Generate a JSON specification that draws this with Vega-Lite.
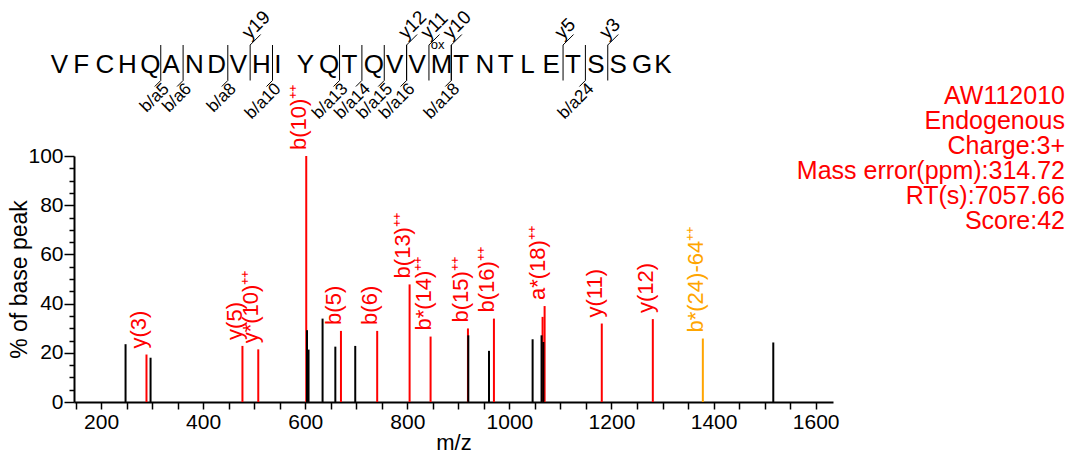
{
  "$schema": "https://vega.github.io/schema/vega-lite/v6.json",
  "autosize": {"type": "none"},
  "padding": {"left": 74, "top": 156, "right": 238, "bottom": 57},
  "width": 759,
  "height": 246,
  "background": "white",
  "config": {
    "font": "Liberation Sans",
    "view": {"stroke": null},
    "text": {"font": "Liberation Sans"}
  },
  "title": {
    "text": ["AW112010", "Endogenous", "Charge:3+", "Mass error(ppm):314.72", "RT(s):7057.66", "Score:42"],
    "anchor": "end",
    "frame": "group",
    "orient": "top",
    "align": "right",
    "baseline": "top",
    "color": "#ff0000",
    "font": "Liberation Sans",
    "fontSize": 25,
    "fontWeight": "normal",
    "lineHeight": 25,
    "offset": 0,
    "dx": 232,
    "dy": 226
  },
  "layer": [
    {
      "data": {
        "values": [
          {"mz": 289, "pct": 19.3, "kind": "matched", "label": "y(3)"},
          {"mz": 477, "pct": 22.8, "kind": "matched", "label": "y(5)"},
          {"mz": 508, "pct": 21.4, "kind": "matched", "label": "y*(10)⁺⁺"},
          {"mz": 602, "pct": 100, "kind": "matched", "label": "b(10)⁺⁺"},
          {"mz": 670, "pct": 28.9, "kind": "matched", "label": "b(5)"},
          {"mz": 741, "pct": 28.9, "kind": "matched", "label": "b(6)"},
          {"mz": 804.5, "pct": 47.8, "kind": "matched", "label": "b(13)⁺⁺"},
          {"mz": 845.6, "pct": 26.6, "kind": "matched", "label": "b*(14)⁺⁺"},
          {"mz": 918.8, "pct": 29.9, "kind": "matched", "label": "b(15)⁺⁺"},
          {"mz": 969.7, "pct": 33.9, "kind": "matched", "label": "b(16)⁺⁺"},
          {"mz": 1065, "pct": 34.6, "kind": "matched", "label": null},
          {"mz": 1069, "pct": 39.0, "kind": "matched", "label": "a*(18)⁺⁺"},
          {"mz": 1181, "pct": 31.9, "kind": "matched", "label": "y(11)"},
          {"mz": 1281, "pct": 33.7, "kind": "matched", "label": "y(12)"},
          {"mz": 1379, "pct": 25.8, "kind": "loss", "label": "b*(24)-64⁺⁺"},
          {"mz": 248, "pct": 23.5, "kind": "unmatched", "label": null},
          {"mz": 297, "pct": 18.0, "kind": "unmatched", "label": null},
          {"mz": 603.5, "pct": 29.2, "kind": "unmatched", "label": null},
          {"mz": 606.5, "pct": 21.3, "kind": "unmatched", "label": null},
          {"mz": 634, "pct": 33.9, "kind": "unmatched", "label": null},
          {"mz": 659, "pct": 22.5, "kind": "unmatched", "label": null},
          {"mz": 698, "pct": 22.8, "kind": "unmatched", "label": null},
          {"mz": 919.5, "pct": 27.1, "kind": "unmatched", "label": null},
          {"mz": 960, "pct": 20.8, "kind": "unmatched", "label": null},
          {"mz": 1045.5, "pct": 25.5, "kind": "unmatched", "label": null},
          {"mz": 1063, "pct": 27.1, "kind": "unmatched", "label": null},
          {"mz": 1066.5, "pct": 24.4, "kind": "unmatched", "label": null},
          {"mz": 1517, "pct": 24.2, "kind": "unmatched", "label": null}
        ]
      },
      "layer": [
        {
          "mark": {"type": "rule", "strokeWidth": 2},
          "encoding": {
            "x": {
              "field": "mz", "type": "quantitative",
              "scale": {"domain": [147, 1634], "nice": false, "zero": false},
              "axis": {
                "title": "m/z",
                "values": [150, 200, 250, 300, 350, 400, 450, 500, 550, 600, 650, 700, 750, 800, 850, 900, 950, 1000, 1050, 1100, 1150, 1200, 1250, 1300, 1350, 1400, 1450, 1500, 1550, 1600],
                "tickCount": 1000,
                "labelExpr": "datum.value % 200 === 0 ? format(datum.value, 'd') : ''",
                "labelFlush": false,
                "labelOverlap": false,
                "grid": false,
                "domainColor": "black",
                "domainWidth": 2,
                "tickColor": "black",
                "tickWidth": 1.5,
                "tickSize": 7,
                "labelFont": "Liberation Sans",
                "labelFontSize": 21,
                "labelColor": "black",
                "labelPadding": 2,
                "titleFont": "Liberation Sans",
                "titleFontSize": 22,
                "titleFontWeight": "normal",
                "titleColor": "black",
                "titlePadding": 0
              }
            },
            "y": {
              "field": "pct", "type": "quantitative",
              "scale": {"domain": [0, 100], "nice": false},
              "axis": {
                "title": "% of base peak",
                "values": [0, 5, 10, 15, 20, 25, 30, 35, 40, 45, 50, 55, 60, 65, 70, 75, 80, 85, 90, 95, 100],
                "tickCount": 1000,
                "labelExpr": "datum.value % 20 === 0 ? format(datum.value, 'd') : ''",
                "labelOverlap": false,
                "labelFlush": false,
                "grid": false,
                "domainColor": "black",
                "domainWidth": 2,
                "tickColor": "black",
                "tickWidth": 1.5,
                "tickSize": {"condition": {"test": "datum.value % 20 === 0", "value": 10}, "value": 5},
                "labelFont": "Liberation Sans",
                "labelFontSize": 21,
                "labelColor": "black",
                "labelPadding": 1,
                "titleFont": "Liberation Sans",
                "titleFontSize": 23,
                "titleFontWeight": "normal",
                "titleColor": "black",
                "titlePadding": -4
              }
            },
            "y2": {"datum": 0},
            "color": {
              "field": "kind", "type": "nominal",
              "scale": {"domain": ["unmatched", "matched", "loss"], "range": ["#000000", "#ff0000", "#ffa500"]},
              "legend": null
            }
          }
        },
        {
          "transform": [{"filter": "datum.label != null"}],
          "mark": {"type": "text", "angle": 270, "align": "left", "baseline": "alphabetic", "dx": 6, "fontSize": 22, "font": "Liberation Sans"},
          "encoding": {
            "x": {"field": "mz", "type": "quantitative"},
            "y": {"field": "pct", "type": "quantitative"},
            "text": {"field": "label"},
            "color": {"field": "kind", "type": "nominal", "legend": null}
          }
        }
      ]
    },
    {
      "layer": [
        {
          "data": {
            "values": [
              {"i": 1, "aa": "V"}, {"i": 2, "aa": "F"}, {"i": 3, "aa": "C"}, {"i": 4, "aa": "H"},
              {"i": 5, "aa": "Q"}, {"i": 6, "aa": "A"}, {"i": 7, "aa": "N"}, {"i": 8, "aa": "D"},
              {"i": 9, "aa": "V"}, {"i": 10, "aa": "H"}, {"i": 11, "aa": "I"}, {"i": 12, "aa": "Y"},
              {"i": 13, "aa": "Q"}, {"i": 14, "aa": "T"}, {"i": 15, "aa": "Q"}, {"i": 16, "aa": "V"},
              {"i": 17, "aa": "V"}, {"i": 18, "aa": "M", "mod": "ox"}, {"i": 19, "aa": "T"}, {"i": 20, "aa": "N"},
              {"i": 21, "aa": "T"}, {"i": 22, "aa": "L"}, {"i": 23, "aa": "E"}, {"i": 24, "aa": "T"},
              {"i": 25, "aa": "S"}, {"i": 26, "aa": "S"}, {"i": 27, "aa": "G"}, {"i": 28, "aa": "K"}
            ]
          },
          "layer": [
            {
              "mark": {"type": "text", "align": "left", "baseline": "alphabetic", "dx": -20.5, "fontSize": 26, "font": "Liberation Sans", "color": "black"},
              "encoding": {
                "x": {"field": "i", "type": "quantitative", "scale": {"domain": [0, 28], "range": [-25, 600.8], "nice": false, "zero": false}, "axis": null},
                "y": {"datum": 0.21, "type": "quantitative", "scale": {"domain": [0, 1], "range": [-75.5, -111], "nice": false, "zero": false}, "axis": null},
                "text": {"field": "aa"}
              }
            },
            {
              "transform": [{"filter": "datum.mod != null"}],
              "mark": {"type": "text", "align": "left", "baseline": "alphabetic", "dx": -20.5, "fontSize": 13, "font": "Liberation Sans", "color": "black"},
              "encoding": {
                "x": {"field": "i", "type": "quantitative", "scale": {"domain": [0, 28], "range": [-25, 600.8], "nice": false, "zero": false}, "axis": null},
                "y": {"datum": 0.9, "type": "quantitative", "scale": {"domain": [0, 1], "range": [-75.5, -111], "nice": false, "zero": false}, "axis": null},
                "text": {"field": "mod"}
              }
            }
          ]
        },
        {
          "data": {
            "values": [
              {"k": 5, "ion": "b", "label": "b/a5"},
              {"k": 6, "ion": "b", "label": "b/a6"},
              {"k": 8, "ion": "b", "label": "b/a8"},
              {"k": 10, "ion": "b", "label": "b/a10"},
              {"k": 13, "ion": "b", "label": "b/a13"},
              {"k": 14, "ion": "b", "label": "b/a14"},
              {"k": 15, "ion": "b", "label": "b/a15"},
              {"k": 16, "ion": "b", "label": "b/a16"},
              {"k": 18, "ion": "b", "label": "b/a18"},
              {"k": 24, "ion": "b", "label": "b/a24"},
              {"k": 9, "ion": "y", "label": "y19"},
              {"k": 16, "ion": "y", "label": "y12"},
              {"k": 17, "ion": "y", "label": "y11"},
              {"k": 18, "ion": "y", "label": "y10"},
              {"k": 23, "ion": "y", "label": "y5"},
              {"k": 25, "ion": "y", "label": "y3"}
            ]
          },
          "layer": [
            {
              "mark": {"type": "rule", "strokeWidth": 1, "color": "black"},
              "encoding": {
                "x": {"field": "k", "type": "quantitative", "scale": {"domain": [0, 28], "range": [-25, 600.8], "nice": false, "zero": false}, "axis": null},
                "y": {"datum": 0, "type": "quantitative", "scale": {"domain": [0, 1], "range": [-75.5, -111], "nice": false, "zero": false}, "axis": null},
                "y2": {"datum": 1}
              }
            },
            {
              "transform": [{"filter": "datum.ion === 'b'"}],
              "mark": {"type": "rule", "strokeWidth": 1, "color": "black", "x2Offset": -6, "y2Offset": 6},
              "encoding": {
                "x": {"field": "k", "type": "quantitative", "scale": {"domain": [0, 28], "range": [-25, 600.8], "nice": false, "zero": false}, "axis": null},
                "x2": {"field": "k"},
                "y": {"datum": 0, "type": "quantitative", "scale": {"domain": [0, 1], "range": [-75.5, -111], "nice": false, "zero": false}, "axis": null},
                "y2": {"datum": 0}
              }
            },
            {
              "transform": [{"filter": "datum.ion === 'y'"}],
              "mark": {"type": "rule", "strokeWidth": 1, "color": "black", "x2Offset": 10.5, "y2Offset": -10.5},
              "encoding": {
                "x": {"field": "k", "type": "quantitative", "scale": {"domain": [0, 28], "range": [-25, 600.8], "nice": false, "zero": false}, "axis": null},
                "x2": {"field": "k"},
                "y": {"datum": 1, "type": "quantitative", "scale": {"domain": [0, 1], "range": [-75.5, -111], "nice": false, "zero": false}, "axis": null},
                "y2": {"datum": 1}
              }
            },
            {
              "transform": [{"filter": "datum.ion === 'b'"}],
              "mark": {"type": "text", "angle": 315, "align": "right", "baseline": "top", "fontSize": 17, "font": "Liberation Sans", "color": "black"},
              "encoding": {
                "x": {"field": "k", "type": "quantitative", "scale": {"domain": [0, 28], "range": [-25, 600.8], "nice": false, "zero": false}, "axis": null},
                "y": {"datum": 0, "type": "quantitative", "scale": {"domain": [0, 1], "range": [-75.5, -111], "nice": false, "zero": false}, "axis": null},
                "text": {"field": "label"}
              }
            },
            {
              "transform": [{"filter": "datum.ion === 'y'"}],
              "mark": {"type": "text", "angle": 315, "align": "left", "baseline": "bottom", "dx": 3, "fontSize": 19, "font": "Liberation Sans", "color": "black"},
              "encoding": {
                "x": {"field": "k", "type": "quantitative", "scale": {"domain": [0, 28], "range": [-25, 600.8], "nice": false, "zero": false}, "axis": null},
                "y": {"datum": 1, "type": "quantitative", "scale": {"domain": [0, 1], "range": [-75.5, -111], "nice": false, "zero": false}, "axis": null},
                "text": {"field": "label"}
              }
            }
          ]
        }
      ]
    }
  ],
  "resolve": {"scale": {"x": "independent", "y": "independent"}}
}
